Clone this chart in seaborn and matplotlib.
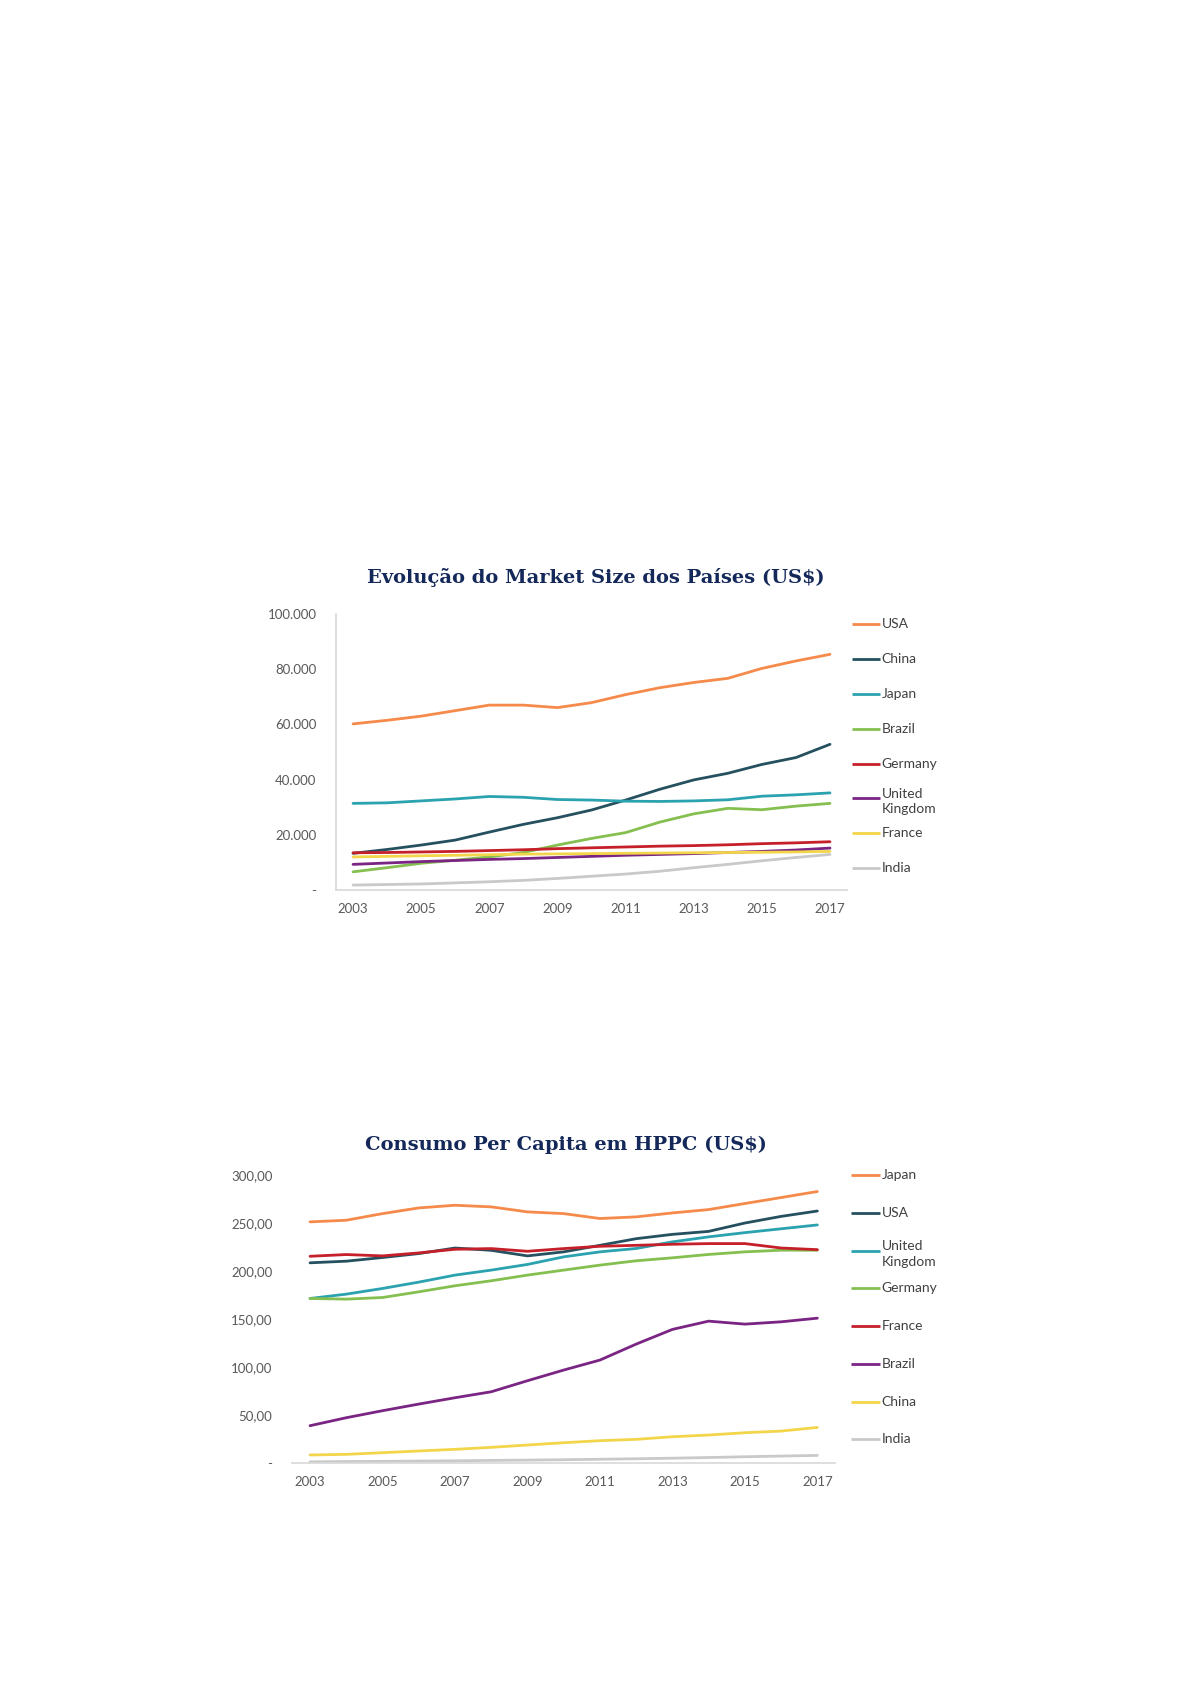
import matplotlib
matplotlib.use("Agg")
import matplotlib.pyplot as plt
import seaborn as sns
import pandas as pd

sns.set_theme(style="white")
plt.rcParams['font.family'] = ['Lato', 'DejaVu Sans']

years = list(range(2003, 2018))

# Evolução do Market Size dos Países (US$)
size_countries = ["USA", "China", "Japan", "Brazil", "Germany", "United\nKingdom", "France", "India"]
usa_size = [60200, 61500, 63000, 65000, 67000, 67000, 66100, 67900, 70800, 73300, 75200, 76700, 80300, 83000, 85400]
china_size = [13300, 14700, 16300, 18100, 21000, 23800, 26200, 29000, 32600, 36500, 39900, 42300, 45500, 48000, 52800]
japan_size = [31400, 31600, 32300, 33000, 33900, 33600, 32800, 32600, 32200, 32100, 32300, 32700, 34000, 34500, 35200]
brazil_size = [6600, 8100, 9700, 10800, 12000, 13600, 16300, 18700, 20800, 24600, 27600, 29600, 29100, 30400, 31400]
germany_size = [13500, 13600, 13800, 14000, 14300, 14600, 15000, 15300, 15600, 15900, 16100, 16400, 16800, 17100, 17500]
uk_size = [9300, 9800, 10300, 10700, 11100, 11400, 11800, 12200, 12600, 12900, 13200, 13600, 14000, 14500, 15200]
france_size = [12000, 12200, 12400, 12600, 12800, 13000, 13100, 13200, 13300, 13400, 13500, 13600, 13700, 13800, 14000]
india_size = [1800, 2000, 2200, 2600, 3000, 3500, 4200, 5000, 5800, 6800, 8100, 9300, 10600, 11800, 12900]

# Consumo Per Capita em HPPC (US$)
pc_countries = ["Japan", "USA", "United\nKingdom", "Germany", "France", "Brazil", "China", "India"]
japan_pc = [251.2, 252.9, 259.8, 265.7, 268.5, 266.8, 261.6, 259.8, 254.7, 256.4, 260.5, 264.0, 270.3, 276.5, 282.8]
usa_pc = [208.6, 210.3, 214.1, 218.2, 224.0, 221.6, 215.8, 220.0, 226.8, 233.7, 238.2, 241.3, 250.0, 256.9, 262.5]
uk_pc = [171.5, 176.0, 181.9, 188.5, 195.8, 201.0, 206.9, 214.8, 220.0, 223.5, 230.4, 235.6, 240.0, 244.0, 248.0]
germany_pc = [171.5, 170.8, 172.5, 178.4, 184.7, 189.9, 195.8, 201.0, 206.2, 210.7, 213.8, 217.3, 220.0, 221.7, 221.7]
france_pc = [215.4, 217.2, 215.8, 218.9, 222.7, 223.4, 220.6, 223.4, 225.8, 226.8, 227.9, 228.6, 228.6, 224.0, 222.3]
brazil_pc = [39.1, 47.4, 54.7, 61.6, 68.2, 74.4, 85.9, 97.0, 107.4, 124.0, 139.3, 147.9, 144.8, 147.2, 151.0]
china_pc = [8.6, 9.3, 11.0, 12.8, 14.5, 16.6, 19.0, 21.4, 23.5, 24.9, 27.6, 29.4, 31.8, 33.5, 37.3]
india_pc = [1.5, 1.8, 2.0, 2.3, 2.6, 3.0, 3.3, 3.7, 4.2, 4.7, 5.3, 6.0, 6.8, 7.5, 8.2]

colors = ["#F58A4B", "#25505F", "#2BA2AF", "#85BF50", "#C51F2A", "#7A2483", "#F3D54B", "#C9C9C9"]
title_color = "#14295A"
tick_color = "#595959"


def long_df(countries, series):
    rows = []
    for name, vals in zip(countries, series):
        for y, v in zip(years, vals):
            rows.append({"Ano": y, "País": name, "Valor": v})
    return pd.DataFrame(rows)


def draw(ax, df, countries, ylim, yticks, fmt, leg_x, leg_top, leg_step, left_spine):
    sns.lineplot(data=df, x="Ano", y="Valor", hue="País", hue_order=countries,
                 palette=colors, linewidth=2.0, legend=False, ax=ax)
    ax.set_xlim(2002.5, 2017.5)
    ax.set_ylim(*ylim)
    ax.set_xticks(years[::2])
    ax.set_yticks(yticks)
    ax.set_yticklabels([fmt(v) for v in yticks])
    ax.set_xlabel("")
    ax.set_ylabel("")
    ax.tick_params(axis="both", length=0, labelsize=9.5, colors=tick_color)
    ax.tick_params(axis="y", pad=14)
    ax.tick_params(axis="x", pad=9)
    for s in ["top", "right"]:
        ax.spines[s].set_visible(False)
    ax.spines["left"].set_visible(left_spine)
    ax.spines["left"].set_color("#D9D9D9")
    ax.spines["bottom"].set_color("#D9D9D9")
    ax.grid(False)
    # legenda ao estilo Excel, espaçamento fixo
    for i, name in enumerate(countries):
        y = leg_top - i * leg_step
        ax.plot([leg_x[0], leg_x[1]], [y, y], transform=ax.transAxes, clip_on=False,
                color=colors[i], linewidth=2.0, solid_capstyle="butt")
        if "\n" in name:
            ax.annotate(name, (leg_x[1] + 0.003, y), xycoords="axes fraction",
                        xytext=(0, 7.5), textcoords="offset points", va="top", ha="left",
                        fontsize=10, color="#404040", linespacing=1.35)
        else:
            ax.text(leg_x[1] + 0.003, y, name, transform=ax.transAxes, va="center",
                    ha="left", fontsize=10, color="#404040")


def fmt_size(v):
    return "-" if v == 0 else f"{int(v):,}".replace(",", ".")


def fmt_pc(v):
    return "-" if v == 0 else f"{v:.2f}".replace(".", ",")


fig = plt.figure(figsize=(11.92, 16.86), dpi=100)

ax1 = fig.add_axes([0.2819, 0.4721, 0.4287, 0.1637])
df1 = long_df(size_countries, [usa_size, china_size, japan_size, brazil_size,
                               germany_size, uk_size, france_size, india_size])
draw(ax1, df1, size_countries, (0, 100000), list(range(0, 100001, 20000)), fmt_size,
     (1.0098, 1.0646), 0.964, 0.1264, True)
fig.text(0.5, 0.6572, "Evolução do Market Size dos Países (US$)", ha="center", va="center",
         fontsize=14, fontweight="bold", color=title_color, family="DejaVu Serif")

ax2 = fig.add_axes([0.2449, 0.1321, 0.456, 0.171])
df2 = long_df(pc_countries, [japan_pc, usa_pc, uk_pc, germany_pc,
                             france_pc, brazil_pc, china_pc, india_pc])
draw(ax2, df2, pc_countries, (0, 300), list(range(0, 301, 50)), fmt_pc,
     (1.028, 1.082), 1.0, 0.131, False)
fig.text(0.475, 0.3209, "Consumo Per Capita em HPPC (US$)", ha="center", va="center",
         fontsize=14, fontweight="bold", color=title_color, family="DejaVu Serif")

plt.savefig("out.png", dpi=100)
plt.close()
